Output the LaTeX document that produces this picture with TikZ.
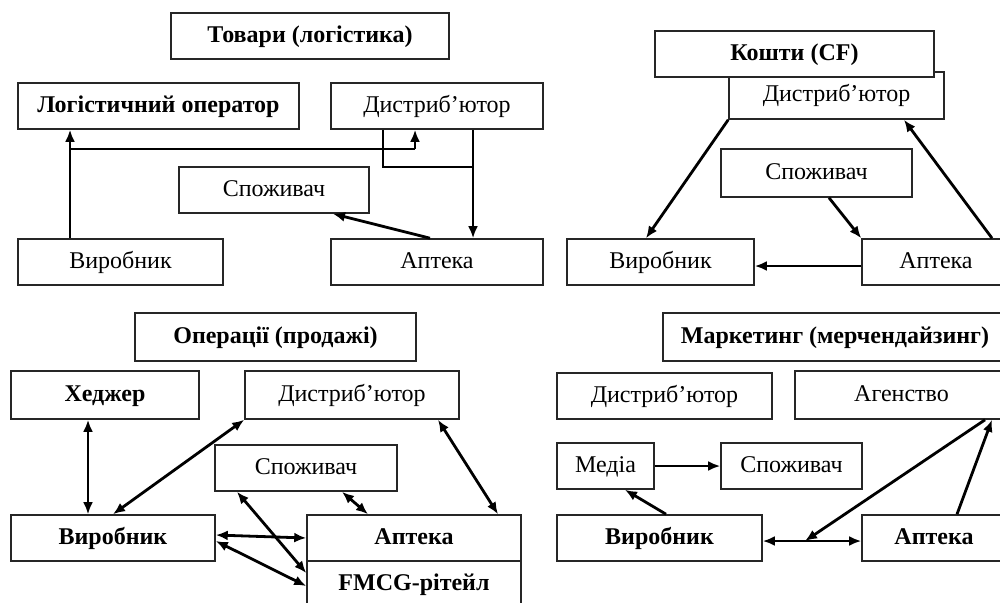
\documentclass[tikz,border=0pt]{standalone}
\usepackage{fontspec}
\setmainfont{Liberation Serif}
\usetikzlibrary{arrows.meta,calc}
\begin{document}
\begin{tikzpicture}
      [x=1pt,y=-1pt,
      box/.style={draw=black!85, line width=1.6pt, fill=white, inner sep=0pt,
        minimum height=46pt, text height=17pt, text depth=5pt,
        font=\fontsize{24}{28}\selectfont},
      bbox/.style={box, font=\fontsize{24}{28}\selectfont\bfseries},
      arr/.style={-{Latex[length=12pt,width=10pt]}, line width=2.8pt},
      darr/.style={{Latex[length=12pt,width=10pt]}-{Latex[length=12pt,width=10pt]}, line width=2.8pt},
      thin/.style={line width=1.6pt},
      ]
      \useasboundingbox (0,0) rectangle (1000,602);
      \clip (0,0) rectangle (1000,602);
      % Товари
      \node[bbox, minimum width=278pt] (t1) at (310,36) {Товари (логістика)};
      \node[bbox, minimum width=281pt] (lo1) at (158.5,106) {Логістичний оператор};
      \node[box, minimum width=212pt] (d1) at (437,106) {Дистриб'ютор};
      \node[box, minimum width=190pt] (s1) at (274,190) {Споживач};
      \node[box, minimum width=205pt] (v1) at (120.5,262) {Виробник};
      \node[box, minimum width=212pt] (a1) at (437,262) {Аптека};
      \coordinate (p1) at ([xshift=-50.5pt]v1.north);
      \coordinate (j1) at (70,149);
      \coordinate (j2) at (415,149);
      \coordinate (k1) at (472,167);
      \draw[arr] (p1) -- (p1 |- lo1.south);
      \draw[thin] (j1) -- (j2);
      \draw[arr] (j2) -- (j2 |- d1.south);
      \draw[thin] ([xshift=-54pt]d1.south) |- (k1);
      \draw[arr] ([xshift=36pt]d1.south) -- ([xshift=36pt]a1.north);
      \draw[arr] ([xshift=-7pt]a1.north) -- ([xshift=59pt]s1.south);
      % Кошти
      \node[box, minimum width=215pt, minimum height=47pt] (d2) at (836.5,95.5) {Дистриб'ютор};
      \node[bbox, minimum width=279pt] (t2) at (794.5,54) {Кошти (CF)};
      \node[box, minimum width=191pt, minimum height=48pt] (s2) at (816.5,173) {Споживач};
      \node[box, minimum width=187pt] (v2) at (660.5,262) {Виробник};
      \node[box, minimum width=148pt] (a2) at (936,262) {Аптека};
      \draw[arr] (d2.south west) -- ([xshift=-14.5pt]v2.north);
      \draw[arr] ([xshift=56pt]a2.north) -- ([xshift=67.5pt]d2.south);
      \draw[arr] ([xshift=12.5pt]s2.south) -- (a2.north west);
      \draw[arr] ([yshift=-4pt]a2.west) -- ([yshift=-4pt]v2.east);
      % Операції
      \node[bbox, minimum width=281pt, minimum height=48pt] (t3) at (275.5,337) {Операції (продажі)};
      \node[bbox, minimum width=188pt, minimum height=48pt] (h3) at (105,395) {Хеджер};
      \node[box, minimum width=214pt, minimum height=48pt] (d3) at (352,395) {Дистриб'ютор};
      \node[box, minimum width=182pt] (s3) at (306,468) {Споживач};
      \node[bbox, minimum width=204pt] (v3) at (113,538) {Виробник};
      \node[bbox, minimum width=214pt] (f3) at (414,584) {FMCG-рітейл};
      \node[bbox, minimum width=214pt] (a3) at (414,538) {Аптека};
      \draw[darr] ([xshift=-17pt]h3.south) -- ([xshift=-25pt]v3.north);
      \draw[darr] (v3.north) -- (d3.south west);
      \draw[darr] ([xshift=86pt]d3.south) -- ([xshift=84pt]a3.north);
      \draw[darr] ([xshift=36pt]s3.south) -- ([xshift=-46pt]a3.north);
      \draw[darr] ([xshift=-69pt]s3.south) -- ([yshift=11pt]f3.west);
      \draw[darr] ([yshift=3pt]v3.east) -- (a3.west);
      \draw[darr] ([yshift=-3pt]v3.east) -- ([yshift=-2pt]f3.west);
      % Маркетинг
      \node[bbox, minimum width=344pt, minimum height=48pt] (t4) at (835,337) {Маркетинг (мерчендайзинг)};
      \node[box, minimum width=215pt] (d4) at (664.5,396) {Дистриб'ютор};
      \node[box, minimum width=213pt, minimum height=48pt] (ag4) at (901.5,395) {Агенство};
      \node[box, minimum width=97pt] (m4) at (605.5,466) {Медіа};
      \node[box, minimum width=141pt] (s4) at (791.5,466) {Споживач};
      \node[bbox, minimum width=205pt] (v4) at (659.5,538) {Виробник};
      \node[bbox, minimum width=144pt] (a4) at (934,538) {Аптека};
      \coordinate (j4) at (805,541);
      \draw[arr] (m4.east) -- (s4.west);
      \draw[arr] ([xshift=6.5pt]v4.north) -- ([xshift=19.5pt]m4.south);
      \draw[darr] ([yshift=-3pt]v4.east) -- ([yshift=-3pt]a4.west);
      \draw[arr] ([xshift=83.5pt]ag4.south) -- (j4);
      \draw[arr] ([xshift=23pt]a4.north) -- ([xshift=90.5pt]ag4.south);
\end{tikzpicture}
\end{document}
